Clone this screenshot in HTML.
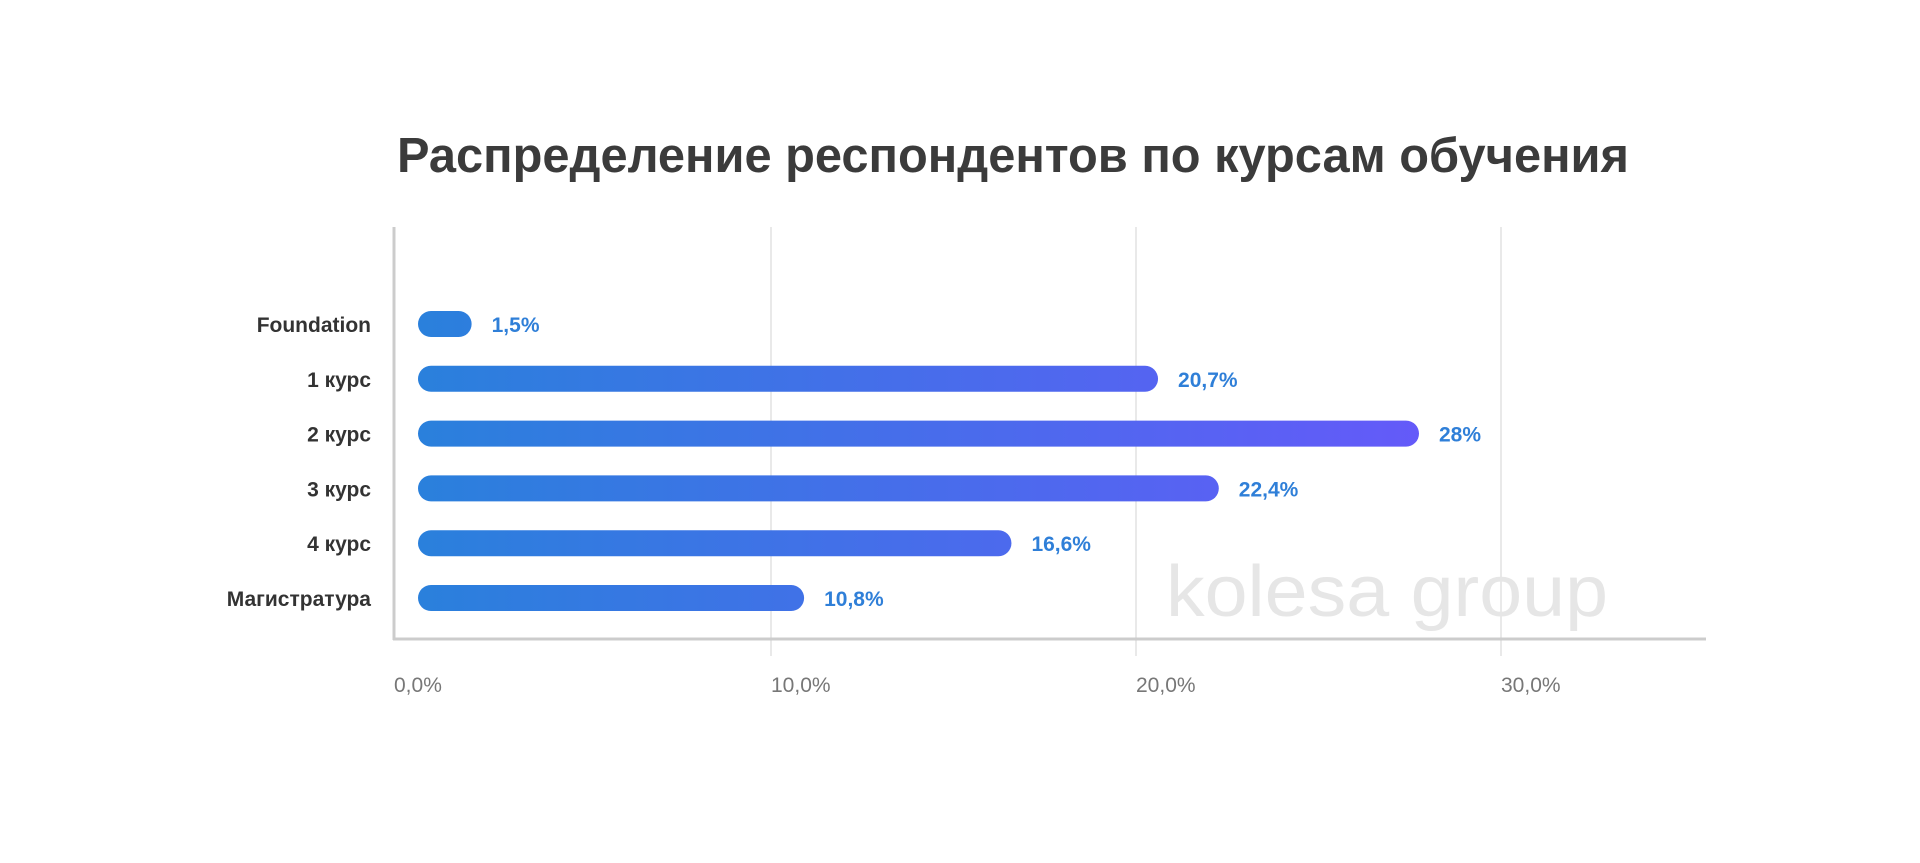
<!DOCTYPE html>
<html><head><meta charset="utf-8"><style>
html,body{margin:0;padding:0;background:#fff;}
svg{display:block;font-family:"Liberation Sans","DejaVu Sans",sans-serif;}
</style></head><body>
<svg id="chart" width="1920" height="863" viewBox="0 0 1920 863">
<defs>
<linearGradient id="barGrad" gradientUnits="userSpaceOnUse" x1="418" y1="0" x2="1420" y2="0">
<stop offset="0" stop-color="#2a80dc"/><stop offset="1" stop-color="#645af9"/>
</linearGradient>
</defs>
<text x="397" y="172" font-size="49" font-weight="bold" fill="#3b3b3b" textLength="1232" lengthAdjust="spacingAndGlyphs">Распределение респондентов по курсам обучения</text>
<g id="grid"></g>
<text x="1166" y="616" font-size="72" fill="#e6e6e6" textLength="442" lengthAdjust="spacingAndGlyphs">kolesa group</text>
<line x1="394" y1="227" x2="394" y2="640" stroke="#cccccc" stroke-width="3"/>
<line x1="393" y1="639" x2="1706" y2="639" stroke="#cccccc" stroke-width="3"/>
<g id="bars"></g>
</svg>
<script>
const categories = ["Foundation","1 курс","2 курс","3 курс","4 курс","Магистратура"];
const values = [1.5, 20.7, 28, 22.4, 16.6, 10.8];
const valueLabels = ["1,5%","20,7%","28%","22,4%","16,6%","10,8%"];
const ticks = [0, 10, 20, 30];
const tickLabels = ["0,0%","10,0%","20,0%","30,0%"];

const NS = "http://www.w3.org/2000/svg";
function barX(v){ return 418 + v * 35.75; }
function gridX(v){ return 406 + v * 36.5; }
function rowY(i){ return 324 + i * 54.8; }

const grid = document.getElementById("grid");
ticks.forEach((t, i) => {
  const gx = i === 0 ? 394 : gridX(t);
  if (i > 0) {
    const l = document.createElementNS(NS, "line");
    
    
    l.setAttribute("x1", gx); l.setAttribute("x2", gx);
    l.setAttribute("y1", 227); l.setAttribute("y2", 656);
    l.setAttribute("stroke", "#dddddd"); l.setAttribute("stroke-width", "1.3");
    grid.appendChild(l);
  }
  const tx = document.createElementNS(NS, "text");
  
  
  tx.setAttribute("x", gx); tx.setAttribute("y", 692);
  tx.setAttribute("font-size", "21"); tx.setAttribute("fill", "#777777");
  tx.textContent = tickLabels[i];
  grid.appendChild(tx);
});

const bars = document.getElementById("bars");
const h = 26;
categories.forEach((c, i) => {
  const y = rowY(i);
  const lab = document.createElementNS(NS, "text");
  
  
  lab.setAttribute("x", 371); lab.setAttribute("y", y + 8);
  lab.setAttribute("text-anchor", "end"); lab.setAttribute("font-size", "21");
  lab.setAttribute("font-weight", "bold"); lab.setAttribute("fill", "#333333");
  lab.textContent = c;
  bars.appendChild(lab);

  const x0 = barX(0), x1 = barX(values[i]);
  const r = document.createElementNS(NS, "rect");
  
  
  r.setAttribute("x", x0); r.setAttribute("y", y - h/2);
  r.setAttribute("width", Math.max(x1 - x0, h)); r.setAttribute("height", h);
  r.setAttribute("rx", h/2); r.setAttribute("fill", "url(#barGrad)");
  bars.appendChild(r);

  const v = document.createElementNS(NS, "text");
  
  
  v.setAttribute("x", Math.max(x1, x0 + h) + 20); v.setAttribute("y", y + 8);
  v.setAttribute("font-size", "21"); v.setAttribute("font-weight", "bold");
  v.setAttribute("fill", "#2f7fd8");
  v.textContent = valueLabels[i];
  bars.appendChild(v);
});
</script>
</body></html>
